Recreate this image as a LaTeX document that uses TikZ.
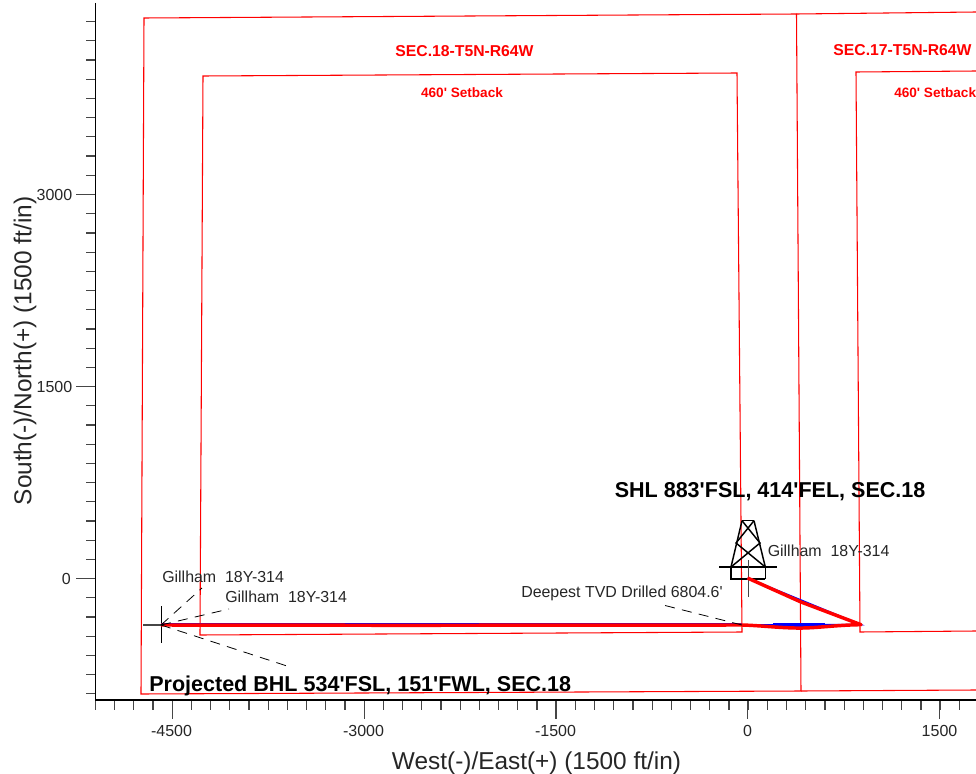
\documentclass[tikz,border=0pt]{standalone}
\usepackage{fontspec}
\setmainfont{Liberation Sans}
\newfontfamily\plainsans{Liberation Sans}
\definecolor{lease}{RGB}{255,0,0}
\definecolor{tickgrey}{RGB}{70,70,70}
\newcommand{\fsz}[1]{\plainsans\fontsize{#1}{#1}\selectfont}
\tikzset{
  lease line/.style={draw=lease,line width=0.8pt},
  axis line/.style={draw=black,line width=0.9pt},
  tick mark/.style={draw=tickgrey,line width=0.9pt},
  dash lead/.style={draw=black,line width=0.6pt,dash pattern=on 7.5pt off 5.5pt},
  rig line/.style={draw=black,line width=1.1pt},
  ticklabel/.style={inner sep=0pt,text=black!85,font=\fsz{12}},
  note/.style={inner sep=0pt,anchor=west,text=black!85,font=\fsz{11.95}},
  axis title/.style={inner sep=0pt,text=black!85,font=\fsz{18.3}},
  big label/.style={inner sep=0pt,anchor=west,text=black,font=\fsz{16.15}\bfseries},
  sec label/.style={inner sep=0pt,text=lease,font=\fsz{11.8}\bfseries},
  set label/.style={inner sep=0pt,text=lease,font=\fsz{10.2}\bfseries},
}
\begin{document}
\begin{tikzpicture}[x=0.75pt,y=-0.75pt]
\useasboundingbox[fill=white] (0,0) rectangle (976,774);
\begin{scope}
\clip (0,0) rectangle (976,774);
% lease lines
\draw[lease line] (796.5,14) -- (144,18) -- (141,694) -- (801,691) -- cycle;
\draw[lease line] (796.5,14) -- (976,12);
\draw[lease line] (801,691) -- (976,690);
\draw[lease line] (737,73) -- (203,76) -- (200,635) -- (742,632) -- cycle;
\draw[lease line] (976,71) -- (856,72) -- (860,632) -- (976,631);
% axes
\foreach \k in {0,...,35} \draw[tick mark] (95.3,{21.7+19.2*\k}) -- (85.5,{21.7+19.2*\k});
\foreach \yy in {194.5,386.5,578.5} \draw[tick mark] (95.3,\yy) -- (76,\yy);
\foreach \k in {0,...,46} \draw[tick mark] ({95.3+19.2*\k},700) -- ({95.3+19.2*\k},709.5);
\foreach \xx in {172.3,364.3,556,747.6,939.5} \draw[tick mark] (\xx,700) -- (\xx,719);
\draw[axis line] (95.3,3) -- (95.3,700) -- (976,700);
\node[ticklabel] (y3000) at (54.5,194.5) {3000};
\node[ticklabel] (y1500) at (54.5,386.5) {1500};
\node[ticklabel,anchor=east] (y0) at (71,578.5) {0};
\node[ticklabel] (xm4500) at (171.5,731) {-4500};
\node[ticklabel] (xm3000) at (363.5,731) {-3000};
\node[ticklabel] (xm1500) at (555.5,731) {-1500};
\node[ticklabel] (x0) at (747.5,731) {0};
\node[ticklabel] (x1500) at (939.5,731) {1500};
\node[axis title] (xtitle) at (536.5,763) {West(-)/East(+) (1500 ft/in)};
\node[axis title,rotate=90] (ytitle) at (25,351) {South(-)/North(+) (1500 ft/in)};
% section labels
\node[sec label] (s18) at (464.5,51) {SEC.18-T5N-R64W};
\node[sec label] (s17) at (902.5,50.5) {SEC.17-T5N-R64W};
\node[set label] (b18) at (462,92.5) {460' Setback};
\node[set label,anchor=west] (b17) at (894,92.5) {460' Setback};
% surface location symbol
\draw[rig line] (742,520.7) -- (754,520.7);
\draw[rig line] (742,520.7) -- (731,567) (754,520.7) -- (765.3,567);
\draw[rig line] (742,520.7) -- (760,543) -- (731,567);
\draw[rig line] (754,520.7) -- (736,543) -- (765.3,567);
\draw[rig line] (719,567) -- (777.3,567);
\draw[rig line] (731,567) -- (731,579) (765.3,567) -- (765.3,579) (730,579) -- (765.3,579);
\draw[draw=tickgrey,line width=0.9pt] (748.3,560) -- (748.3,597);
% BHL cross
\draw[draw=tickgrey,line width=1.1pt] (143,625) -- (161,625);
\draw[draw=black,line width=0.8pt] (161.3,606) -- (161.3,643);
% well path
\coordinate (shl) at (747.5,578);
\coordinate (kick) at (861,624.7);
\coordinate (bhl) at (161,625);
\draw[draw=blue,line width=1.1pt] (shl) -- (kick) -- (bhl) ;
\draw[draw=blue,line width=2.4pt] (773,625) -- (825,625);
\draw[draw=blue,line width=0.8pt] (161,623.2) -- (742,623.2);
\draw[draw=lease,line width=2.6pt,line join=round] (shl) -- (801,602) -- (kick) .. controls (835,625) and (815,628.5) .. (795,628) .. controls (775,627.5) and (760,625.5) .. (742,625) -- (400,625.3) -- (bhl);
% leaders
\draw[dash lead] (bhl) -- (202,588);
\draw[dash lead] (bhl) -- (229,609);
\draw[dash lead] (bhl) -- (287,666);
\draw[dash lead] (742,625) -- (663,605);
% notes
\node[note] (g1) at (162,576.5) {Gillham\ \ 18Y-314};
\node[note] (g2) at (225,596.5) {Gillham\ \ 18Y-314};
\node[note] (g3) at (767.5,550.5) {Gillham\ \ 18Y-314};
\node[note] (td) at (521,593.5) {Deepest TVD Drilled 6804.6'};
\node[big label] (shlt) at (614.5,491.5) {SHL 883'FSL, 414'FEL, SEC.18};
\node[big label] (bhlt) at (149,685.5) {Projected BHL 534'FSL, 151'FWL, SEC.18};
\end{scope}
\end{tikzpicture}
\end{document}
